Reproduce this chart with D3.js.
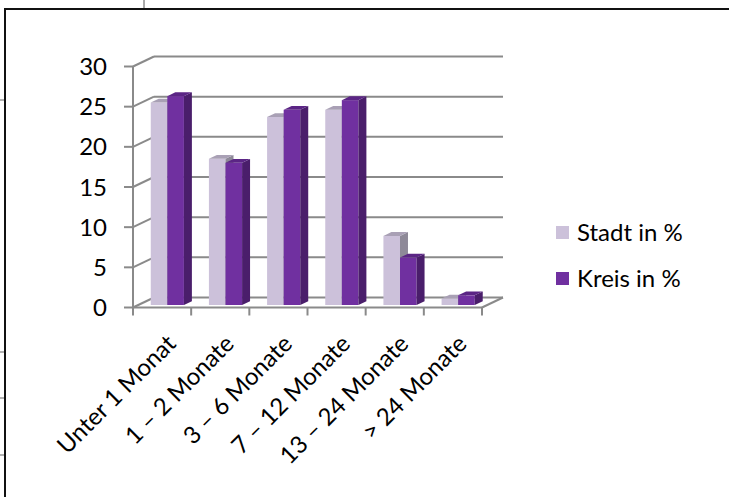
<!DOCTYPE html>
<html>
<head>
<meta charset="utf-8">
<script src="https://cdn.jsdelivr.net/npm/d3@7"></script>
<style>
  html, body { margin: 0; padding: 0; background: #fff; }
  svg { display: block; font-family: Lato, "Noto Sans", sans-serif; }
</style>
</head>
<body>
<svg id="chart" width="729" height="497"></svg>
<script>
// Daten
const categories = ["Unter 1 Monat", "1 – 2 Monate", "3 – 6 Monate", "7 – 12 Monate", "13 – 24 Monate", "> 24 Monate"];
const seriesNames = ["Stadt in %", "Kreis in %"];
const stadtValues = [25.2, 18.2, 23.4, 24.3, 8.6, 0.8];
const kreisValues = [26.0, 17.7, 24.3, 25.5, 5.9, 1.2];
const yTicks = [0, 5, 10, 15, 20, 25, 30];

const fontSize = "24px";
const svg = d3.select("#chart");

// Rahmen der Seite (Word-Dokument)
svg.append("rect")
  .attr("x", 5).attr("y", 9).attr("width", 760).attr("height", 520)
  .attr("fill", "none").attr("stroke", "#111").attr("stroke-width", 2);
svg.append("line")
  .attr("x1", 144).attr("x2", 144).attr("y1", 0).attr("y2", 8)
  .attr("stroke", "#555").attr("stroke-width", 1);
[100, 352, 398, 455].forEach(y => {
  svg.append("line")
    .attr("x1", 0).attr("x2", 4).attr("y1", y).attr("y2", y)
    .attr("stroke", "#999").attr("stroke-width", 1.5);
});

// 3D-Geometrie
const depth = { dx: 21, dy: -10 };
const x0 = 133, x1 = 482;

const xScale = d3.scaleBand()
  .domain(categories)
  .range([x0, x1])
  .paddingInner(0.43)
  .paddingOuter(0.215);

const xSlot = d3.scaleBand().domain(categories).range([x0, x1]);

const xSub = d3.scaleBand()
  .domain(seriesNames)
  .range([0, xScale.bandwidth()]);

const yScale = d3.scaleLinear()
  .domain([0, 30])
  .range([307.5, 66.5]);

const gridColor = "#8a8a8a";
const g = svg.append("g");

// Rückwand-Gitterlinien + Seitenwand-Diagonalen
yTicks.forEach(t => {
  const y = yScale(t);
  g.append("line")
    .attr("x1", x0 + depth.dx).attr("x2", x1 + depth.dx)
    .attr("y1", y + depth.dy).attr("y2", y + depth.dy)
    .attr("stroke", gridColor).attr("stroke-width", 2);
  g.append("line")
    .attr("x1", x0).attr("x2", x0 + depth.dx)
    .attr("y1", y).attr("y2", y + depth.dy)
    .attr("stroke", gridColor).attr("stroke-width", 2);
  // Tickmarke links
  g.append("line")
    .attr("x1", x0 - 9).attr("x2", x0)
    .attr("y1", y).attr("y2", y)
    .attr("stroke", gridColor).attr("stroke-width", 2);
  // Beschriftung
  g.append("text")
    .attr("x", 107).attr("y", y)
    .attr("dy", "0.36em")
    .attr("text-anchor", "end")
    .attr("font-size", fontSize)
    .attr("fill", "#000")
    .text(t);
});

// Y-Achse vorne
g.append("line")
  .attr("x1", x0).attr("x2", x0)
  .attr("y1", yScale(30)).attr("y2", yScale(0))
  .attr("stroke", gridColor).attr("stroke-width", 2);

// Boden: vordere Kante und rechte Diagonale
g.append("line")
  .attr("x1", x0).attr("x2", x1)
  .attr("y1", yScale(0)).attr("y2", yScale(0))
  .attr("stroke", gridColor).attr("stroke-width", 2);
g.append("line")
  .attr("x1", x1).attr("x2", x1 + depth.dx)
  .attr("y1", yScale(0)).attr("y2", yScale(0) + depth.dy)
  .attr("stroke", gridColor).attr("stroke-width", 2);

// Kategorie-Ticks
const boundaries = categories.map(c => xSlot(c)).concat([x1]);
boundaries.forEach(bx => {
  g.append("line")
    .attr("x1", bx).attr("x2", bx)
    .attr("y1", yScale(0)).attr("y2", yScale(0) + 8)
    .attr("stroke", gridColor).attr("stroke-width", 2);
});

// Säulen
const colors = {
  "Stadt in %": { front: "#ccc1da", top: "#a9a0b5", side: "#8e8998" },
  "Kreis in %": { front: "#7030a0", top: "#5b2585", side: "#4a1e6b" }
};
const barFront = 0.25, barBack = 0.63;

const bars = [];
categories.forEach((c, i) => {
  bars.push({ cat: c, series: seriesNames[0], value: stadtValues[i] });
  bars.push({ cat: c, series: seriesNames[1], value: kreisValues[i] });
});

const barG = svg.append("g");
bars.forEach(d => {
  const col = colors[d.series];
  const fx = xScale(d.cat) + xSub(d.series) + depth.dx * barFront;
  const w = xSub.bandwidth();
  const fy0 = yScale(0) + depth.dy * barFront;
  const fyv = yScale(d.value) + depth.dy * barFront;
  const ddx = depth.dx * (barBack - barFront);
  const ddy = depth.dy * (barBack - barFront);

  barG.append("rect")
    .attr("x", fx).attr("y", fyv)
    .attr("width", w).attr("height", fy0 - fyv)
    .attr("fill", col.front);
  barG.append("path")
    .attr("d", `M${fx + w},${fyv} L${fx + w + ddx},${fyv + ddy} L${fx + w + ddx},${fy0 + ddy} L${fx + w},${fy0} Z`)
    .attr("fill", col.side);
  barG.append("path")
    .attr("d", `M${fx},${fyv} L${fx + ddx},${fyv + ddy} L${fx + w + ddx},${fyv + ddy} L${fx + w},${fyv} Z`)
    .attr("fill", col.top);
});

// X-Beschriftungen (gedreht)
categories.forEach(c => {
  const cx = xSlot(c) + xSlot.bandwidth() / 2;
  svg.append("text")
    .attr("transform", `translate(${cx + 3},${333}) rotate(-45)`)
    .attr("dy", "0.72em")
    .attr("text-anchor", "end")
    .attr("font-size", fontSize)
    .attr("fill", "#000")
    .text(c);
});

// Legende
const legend = svg.append("g");
seriesNames.forEach((s, i) => {
  const ly = 226 + i * 46;
  legend.append("rect")
    .attr("x", 556).attr("y", ly)
    .attr("width", 13).attr("height", 13)
    .attr("fill", colors[s].front);
  legend.append("text")
    .attr("x", 577).attr("y", ly + 6.5)
    .attr("dy", "0.36em")
    .attr("font-size", fontSize)
    .attr("fill", "#000")
    .text(s);
});
</script>
</body>
</html>
